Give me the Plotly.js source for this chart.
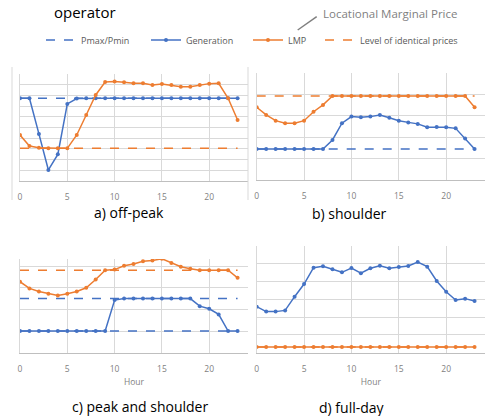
<!DOCTYPE html>
<html>
<head>
<meta charset="utf-8">
<script src="https://cdn.plot.ly/plotly-3.0.1.min.js"></script>
<style>html,body{margin:0;padding:0;background:#fff;}#chart{width:487px;height:416px;}</style>
</head>
<body>
<div id="chart"></div>
<script>
// ---- data ----
var hours = [0,1,2,3,4,5,6,7,8,9,10,11,12,13,14,15,16,17,18,19,20,21,22,23];
var xTicks = [0,5,10,15,20];
var xTickLabels = ['0','5','10','15','20'];
var seriesNames = ['Pmax/Pmin','Generation','LMP','Level of identical prices'];
var panelTitles = ['a) off-peak','b) shoulder','c) peak and shoulder','d) full-day'];

// a) off-peak
var aPmax  = [7.73,7.73,7.73,7.73,7.73,7.73,7.73,7.73,7.73,7.73,7.73,7.73,7.73,7.73,7.73,7.73,7.73,7.73,7.73,7.73,7.73,7.73,7.73,7.73];
var aGen   = [7.73,7.73,4.4,1.03,2.49,7.2,7.7,7.73,7.73,7.73,7.73,7.73,7.73,7.73,7.73,7.73,7.73,7.73,7.73,7.73,7.73,7.73,7.73,7.73];
var aLmp   = [4.3,3.27,3.1,3.05,3.05,3.05,4.3,6.17,8.04,9.25,9.3,9.22,9.13,9.13,8.97,9.07,8.97,8.81,8.81,8.97,9.1,9.13,7.73,5.7];
var aLevel = [3.05,3.05,3.05,3.05,3.05,3.05,3.05,3.05,3.05,3.05,3.05,3.05,3.05,3.05,3.05,3.05,3.05,3.05,3.05,3.05,3.05,3.05,3.05,3.05];

// b) shoulder
var bPmin  = [1.45,1.45,1.45,1.45,1.45,1.45,1.45,1.45,1.45,1.45,1.45,1.45,1.45,1.45,1.45,1.45,1.45,1.45,1.45,1.45,1.45,1.45,1.45,1.45];
var bGen   = [1.45,1.45,1.45,1.45,1.45,1.45,1.45,1.45,1.875,2.66,2.97,2.94,2.97,3.05,2.92,2.78,2.7,2.63,2.47,2.48,2.47,2.42,1.95,1.45];
var bLmp   = [3.41,3.05,2.78,2.66,2.66,2.78,3.2,3.52,3.94,3.94,3.94,3.94,3.94,3.94,3.94,3.94,3.94,3.94,3.94,3.94,3.94,3.94,3.94,3.41];
var bLevel = [3.94,3.94,3.94,3.94,3.94,3.94,3.94,3.94,3.94,3.94,3.94,3.94,3.94,3.94,3.94,3.94,3.94,3.94,3.94,3.94,3.94,3.94,3.94,3.94];

// c) peak and shoulder
var cPmax  = [2.5,2.5,2.5,2.5,2.5,2.5,2.5,2.5,2.5,2.5,2.5,2.5,2.5,2.5,2.5,2.5,2.5,2.5,2.5,2.5,2.5,2.5,2.5,2.5];
var cPmin  = [1.0,1.0,1.0,1.0,1.0,1.0,1.0,1.0,1.0,1.0,1.0,1.0,1.0,1.0,1.0,1.0,1.0,1.0,1.0,1.0,1.0,1.0,1.0,1.0];
var cGen   = [1.0,1.0,1.0,1.0,1.0,1.0,1.0,1.0,1.0,1.0,2.43,2.5,2.5,2.5,2.5,2.5,2.5,2.5,2.5,2.15,2.03,1.77,1.0,1.0];
var cLmp   = [3.28,2.97,2.83,2.72,2.64,2.72,2.83,3.0,3.38,3.81,3.84,4.02,4.1,4.23,4.26,4.34,4.15,3.97,3.88,3.81,3.81,3.81,3.81,3.46];
var cLevel = [3.81,3.81,3.81,3.81,3.81,3.81,3.81,3.81,3.81,3.81,3.81,3.81,3.81,3.81,3.81,3.81,3.81,3.81,3.81,3.81,3.81,3.81,3.81,3.81];

// d) full-day
var dGen   = [2.59,2.31,2.31,2.38,3.15,3.86,4.78,4.86,4.69,4.52,4.76,4.47,4.75,4.89,4.75,4.82,4.88,5.1,4.84,4.03,3.43,2.96,3.04,2.91];
var dLmp   = [0.32,0.32,0.32,0.32,0.32,0.32,0.32,0.32,0.32,0.32,0.32,0.32,0.32,0.32,0.32,0.32,0.32,0.32,0.32,0.32,0.32,0.32,0.32,0.32];
var dLevel = [0.32,0.32,0.32,0.32,0.32,0.32,0.32,0.32,0.32,0.32,0.32,0.32,0.32,0.32,0.32,0.32,0.32,0.32,0.32,0.32,0.32,0.32,0.32,0.32];

// ---- styling ----
var W = 487, H = 416;
function px(x){ return x / W; }
function py(y){ return 1 - y / H; }
var BLUE = '#4472C4', ORANGE = '#ED7D31', GRID = '#d9d9d9', TXT = '#7f7f7f';
var FONT = 'Open Sans, Noto Sans, sans-serif';

function dashed(x, y, color, xa, ya, name, show, lw){
  return {x:x, y:y, xaxis:xa, yaxis:ya, type:'scatter', mode:'lines', name:name,
    legendgroup:name, showlegend:show, legendwidth:lw,
    line:{color:color, width:1.5, dash:'dash'}, hoverinfo:'skip'};
}
function solid(x, y, color, xa, ya, name, show, lw){
  return {x:x, y:y, xaxis:xa, yaxis:ya, type:'scatter', mode:'lines+markers', name:name,
    legendgroup:name, showlegend:show, legendwidth:lw,
    line:{color:color, width:1.5}, marker:{color:color, size:4, symbol:'circle'}, hoverinfo:'skip'};
}

var traces = [
  dashed(hours, aPmax, BLUE, 'x', 'y', seriesNames[0], true, 60),
  solid(hours, aGen, BLUE, 'x', 'y', seriesNames[1], true, 57),
  solid(hours, aLmp, ORANGE, 'x', 'y', seriesNames[2], true, 27),
  dashed(hours, aLevel, ORANGE, 'x', 'y', seriesNames[3], true, 110),

  dashed(hours, bPmin, BLUE, 'x2', 'y2', seriesNames[0], false),
  solid(hours, bGen, BLUE, 'x2', 'y2', seriesNames[1], false),
  dashed(hours, bLevel, ORANGE, 'x2', 'y2', seriesNames[3], false),
  solid(hours, bLmp, ORANGE, 'x2', 'y2', seriesNames[2], false),

  dashed(hours, cPmax, BLUE, 'x3', 'y3', seriesNames[0], false),
  dashed(hours, cPmin, BLUE, 'x3', 'y3', seriesNames[0], false),
  solid(hours, cGen, BLUE, 'x3', 'y3', seriesNames[1], false),
  dashed(hours, cLevel, ORANGE, 'x3', 'y3', seriesNames[3], false),
  solid(hours, cLmp, ORANGE, 'x3', 'y3', seriesNames[2], false),

  solid(hours, dGen, BLUE, 'x4', 'y4', seriesNames[1], false),
  dashed(hours, dLevel, ORANGE, 'x4', 'y4', seriesNames[3], false),
  solid(hours, dLmp, ORANGE, 'x4', 'y4', seriesNames[2], false)
];

function xax(dom, anchor, title){
  var a = {domain:[px(dom[0]), px(dom[1])], anchor:anchor, range:[0, 24.1],
    tickmode:'array', tickvals:xTicks, ticktext:xTickLabels,
    showgrid:true, gridcolor:GRID, gridwidth:1, zeroline:false,
    showline:true, linecolor:'#bfbfbf', linewidth:1, ticks:'',
    ticklabelstandoff:8,
    tickfont:{family:FONT, size:8.5, color:TXT}, fixedrange:true};
  if (title) a.title = {text:title, font:{family:FONT, size:8.5, color:TXT}, standoff:6};
  return a;
}
function yax(dom, anchor, range, dt){
  return {domain:[py(dom[1]), py(dom[0])], anchor:anchor, range:range,
    dtick:dt, tick0:0, showgrid:true, gridcolor:GRID, gridwidth:1, zeroline:false,
    showline:true, linecolor:GRID, linewidth:1, showticklabels:false, ticks:'', fixedrange:true};
}

var layout = {
  width:W, height:H, margin:{l:0, r:0, t:0, b:0},
  paper_bgcolor:'#fff', plot_bgcolor:'#fff',
  font:{family:FONT, color:TXT},
  showlegend:true,
  legend:{orientation:'h', x:px(41), xanchor:'left', y:py(40), yanchor:'middle',
    font:{family:FONT, size:9, color:'#595959'}, bgcolor:'rgba(0,0,0,0)',
    borderwidth:0, tracegroupgap:0, itemwidth:30},
  xaxis: xax([20, 248], 'y'),
  yaxis: yax([74, 181], 'x', [0, 10], 1),
  xaxis2: xax([256.7, 485], 'y2'),
  yaxis2: yax([73.3, 180], 'x2', [0, 5], 1),
  xaxis3: xax([20, 248], 'y3', 'Hour'),
  yaxis3: yax([259, 352.7], 'x3', [0, 4.33], 1),
  xaxis4: xax([256.7, 485], 'y4', 'Hour'),
  yaxis4: yax([246, 352.7], 'x4', [0, 6], 1),
  shapes:[
    {type:'line', xref:'paper', yref:'paper', x0:px(12), x1:px(12), y0:py(67), y1:py(200), line:{color:GRID, width:1}},
    {type:'line', xref:'paper', yref:'paper', x0:px(248), x1:px(248), y0:py(67), y1:py(200), line:{color:GRID, width:1}},
    {type:'line', xref:'paper', yref:'paper', x0:px(297.7), x1:px(316.7), y0:py(30), y1:py(16.7), line:{color:TXT, width:1.5}}
  ],
  annotations:[
    {text:'operator', xref:'paper', yref:'paper', x:px(52), y:py(0), xanchor:'left', yanchor:'top',
      showarrow:false, font:{family:FONT, size:15, color:'#000'}},
    {text:'Locational Marginal Price', xref:'paper', yref:'paper', x:px(321), y:py(13), xanchor:'left', yanchor:'middle',
      showarrow:false, font:{family:FONT, size:11.5, color:TXT}},
    {text:panelTitles[0], xref:'paper', yref:'paper', x:px(129), y:py(213), xanchor:'center', yanchor:'middle',
      showarrow:false, font:{family:FONT, size:14, color:'#000'}},
    {text:panelTitles[1], xref:'paper', yref:'paper', x:px(349), y:py(214), xanchor:'center', yanchor:'middle',
      showarrow:false, font:{family:FONT, size:14, color:'#000'}},
    {text:panelTitles[2], xref:'paper', yref:'paper', x:px(140), y:py(406), xanchor:'center', yanchor:'middle',
      showarrow:false, font:{family:FONT, size:14, color:'#000'}},
    {text:panelTitles[3], xref:'paper', yref:'paper', x:px(352), y:py(407.5), xanchor:'center', yanchor:'middle',
      showarrow:false, font:{family:FONT, size:14, color:'#000'}}
  ]
};

Plotly.newPlot('chart', traces, layout, {staticPlot:true, displayModeBar:false});
</script>
</body>
</html>
